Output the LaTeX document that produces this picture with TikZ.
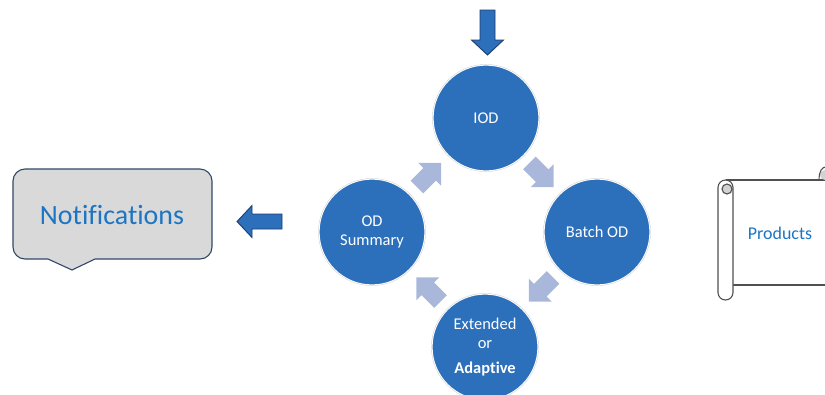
\documentclass[tikz,border=0pt]{standalone}
\usepackage{fontspec}
\setmainfont{Carlito}[Ligatures=NoCommon]
\usetikzlibrary{calc}
\definecolor{cblue}{RGB}{44,111,187}
\definecolor{lightarrow}{RGB}{169,184,218}
\definecolor{tblue}{RGB}{28,117,196}
\definecolor{boxedge}{RGB}{47,74,104}
\definecolor{boxfill}{RGB}{217,217,217}
\definecolor{darkedge}{RGB}{30,62,108}
\definecolor{scrolledge}{RGB}{80,80,80}
\begin{document}
\begin{tikzpicture}[x=1bp,y=-1bp,
  stage/.style={circle,fill=cblue,draw=white,line width=1.2bp,minimum size=106bp,inner sep=0pt,
    text=white,align=center,font=\fontsize{16.5}{19}\selectfont},
  cyclearrow/.pic={\path[pic actions] (-17,-9) -- (1,-9) -- (1,-16) -- (17,0) -- (1,16) -- (1,9) -- (-17,9) -- cycle;},
  bigarrow/.pic={\path[pic actions] (-22.5,-7.5) -- (7.5,-7.5) -- (7.5,-16) -- (22.5,0) -- (7.5,16) -- (7.5,7.5) -- (-22.5,7.5) -- cycle;},
  softarrow/.style={fill=lightarrow},
  hardarrow/.style={fill=cblue,draw=darkedge,line width=0.9bp},
  scrollline/.style={draw=scrolledge,line width=1.1bp}
]
\useasboundingbox (0,0) rectangle (825,394);

% stages
\node[stage] (iod) at (486,118) {IOD};
\node[stage] (batch) at (597,232) {Batch OD};
\node[stage] (summary) at (372,232) {OD\\Summary};
\node[stage] (ext) at (485,347) {Extended\\or\\[6bp]\textbf{Adaptive}};
\draw[gray!35,line width=0.4bp] (iod) circle (53.6);
\draw[gray!35,line width=0.4bp] (batch) circle (53.6);
\draw[gray!35,line width=0.4bp] (summary) circle (53.6);
\draw[gray!35,line width=0.4bp] (ext) circle (53.6);

% cycle arrows
\pic[softarrow,rotate=-45] at ($(iod)!0.5!(batch)$) {cyclearrow};
\pic[softarrow,rotate=-135] at ($(batch)!0.5!(ext)$) {cyclearrow};
\pic[softarrow,rotate=135] at ($(ext)!0.5!(summary)$) {cyclearrow};
\pic[softarrow,rotate=45] at ($(summary)!0.5!(iod)$) {cyclearrow};

% input / output arrows
\pic[hardarrow,rotate=-90] at (487.5,32.5) {bigarrow};
\pic[hardarrow,rotate=180] at (259.5,221.5) {bigarrow};

% notifications callout
\draw[fill=boxfill,draw=boxedge,line width=1.1bp,rounded corners=12bp]
  (112,169) -- (212,169) -- (212,259) [sharp corners] -- (95,259) -- (72,270) -- (48,259)
  [rounded corners=12bp] -- (13,259) -- (13,169) -- cycle;
\node[text=tblue,font=\fontsize{28}{32}\selectfont] (notif) at (112,215) {Notifications};

% products scroll
\fill[white] (726,180) rectangle (825,285);
\draw[scrollline] (726,180) -- (826,180);
\draw[scrollline] (733,285) -- (826,285);
\draw[scrollline,fill=white,rounded corners=7.5bp] (718,180) rectangle (733,300);
\draw[scrollline,fill=gray!35] (727,189) circle (5);
\fill[gray!35] (825,175) circle (5);
\draw[scrollline] (819,180) .. controls (819,171) and (822,167) .. (826,167);
\node[text=tblue,font=\fontsize{18}{21}\selectfont] (products) at (780,233) {Products};
\end{tikzpicture}
\end{document}
